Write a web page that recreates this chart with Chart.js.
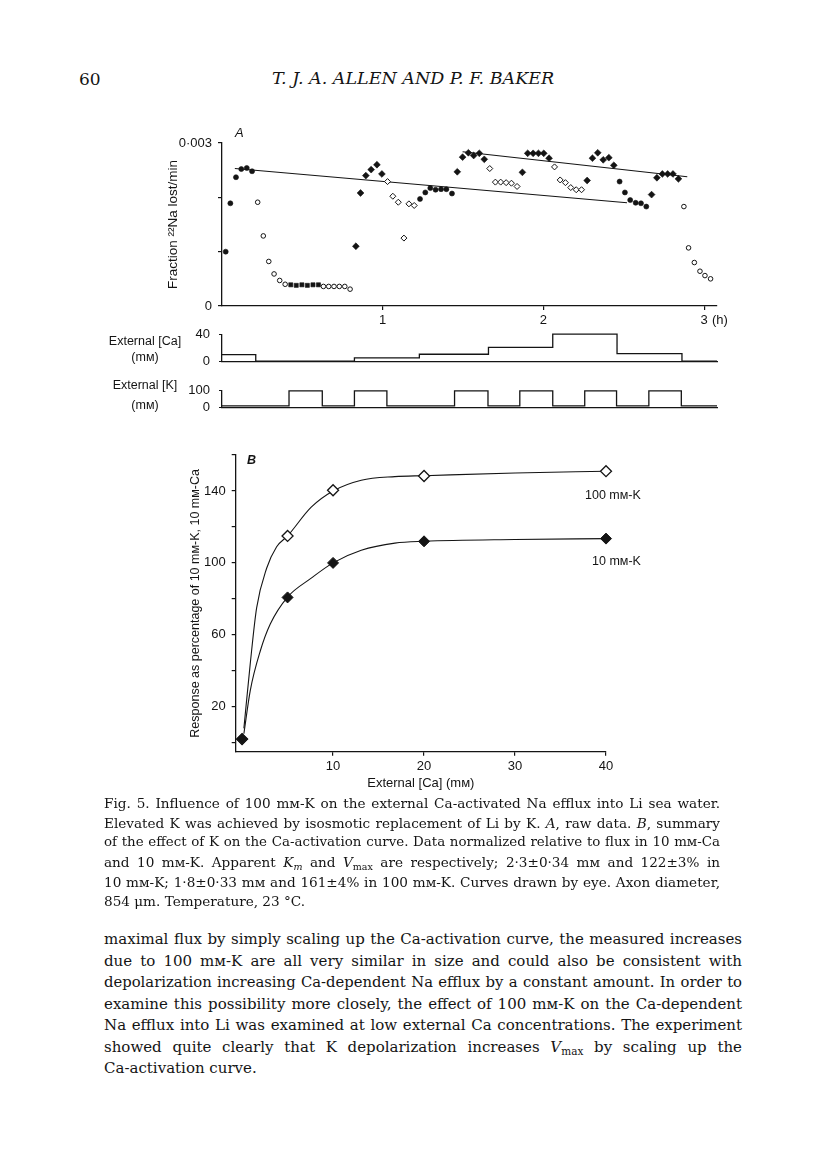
<!DOCTYPE html>
<html>
<head>
<meta charset="utf-8">
<title>Fig. 5</title>
<script src="https://cdn.jsdelivr.net/npm/chart.js@4"></script>
<style>
  body { margin: 0; background: #fff; }
  #page { position: relative; width: 816px; height: 1158px; overflow: hidden; color: #141414; }
  canvas { position: absolute; left: 0; }
  .lbl { position: absolute; white-space: nowrap; font-family: 'Liberation Sans', Arial, sans-serif; font-size: 12.5px; line-height: 15px; }
  .serif { position: absolute; white-space: nowrap; font-family: 'DejaVu Serif', serif; }
  .just { left: 104px; text-align: justify; text-align-last: justify; line-height: 20px; }
  .cap { width: 616px; font-size: 13.6px; }
  .body { width: 638px; font-size: 15px; }
  .last { text-align-last: left; }
  sub { font-size: 70%; line-height: 0; vertical-align: -0.3em; }
</style>
</head>
<body>
<div id="page">
  <div class="serif" style="left:79px;top:69px;font-size:17px;">60</div>
  <div class="serif" style="left:272px;top:68px;font-size:17.5px;font-style:italic;">T. J. A. ALLEN AND P. F. BAKER</div>

  <canvas id="rawChart" width="816" height="225" style="top:110px"></canvas>
  <canvas id="caChart" width="816" height="60" style="top:318px"></canvas>
  <canvas id="kChart" width="816" height="50" style="top:374px"></canvas>
  <canvas id="summaryChart" width="816" height="360" style="top:440px"></canvas>

  <div class="lbl" style="left:235px;top:125px;font-size:13px;font-style:italic;">A</div>
  <div class="lbl" style="left:712px;top:312px;font-size:13px;">(h)</div>
  <div class="lbl" style="left:85px;top:334px;width:120px;text-align:center;">External [Ca]</div>
  <div class="lbl" style="left:85px;top:350px;width:120px;text-align:center;">(mᴍ)</div>
  <div class="lbl" style="left:85px;top:378px;width:120px;text-align:center;">External [K]</div>
  <div class="lbl" style="left:85px;top:398px;width:120px;text-align:center;">(mᴍ)</div>
  <div class="lbl" style="left:247px;top:453px;font-weight:bold;font-style:italic;">B</div>
  <div class="lbl" style="left:585px;top:488px;">100 mᴍ-K</div>
  <div class="lbl" style="left:592px;top:554px;">10 mᴍ-K</div>

  <div class="serif just cap" style="top:793px;">Fig. 5. Influence of 100 mᴍ-K on the external Ca-activated Na efflux into Li sea water.</div>
  <div class="serif just cap" style="top:813px;">Elevated K was achieved by isosmotic replacement of Li by K. <i>A</i>, raw data. <i>B</i>, summary</div>
  <div class="serif just cap" style="top:832px;">of the effect of K on the Ca-activation curve. Data normalized relative to flux in 10 mᴍ-Ca</div>
  <div class="serif just cap" style="top:852px;">and 10 mᴍ-K. Apparent <i>K</i><sub><i>m</i></sub> and <i>V</i><sub>max</sub> are respectively; 2·3±0·34 mᴍ and 122±3% in</div>
  <div class="serif just cap" style="top:872px;">10 mᴍ-K; 1·8±0·33 mᴍ and 161±4% in 100 mᴍ-K. Curves drawn by eye. Axon diameter,</div>
  <div class="serif just cap last" style="top:891px;">854 μm. Temperature, 23 °C.</div>

  <div class="serif just body" style="top:929px;">maximal flux by simply scaling up the Ca-activation curve, the measured increases</div>
  <div class="serif just body" style="top:951px;">due to 100 mᴍ-K are all very similar in size and could also be consistent with</div>
  <div class="serif just body" style="top:972px;">depolarization increasing Ca-dependent Na efflux by a constant amount. In order to</div>
  <div class="serif just body" style="top:994px;">examine this possibility more closely, the effect of 100 mᴍ-K on the Ca-dependent</div>
  <div class="serif just body" style="top:1015px;">Na efflux into Li was examined at low external Ca concentrations. The experiment</div>
  <div class="serif just body" style="top:1037px;">showed quite clearly that K depolarization increases <i>V</i><sub>max</sub> by scaling up the</div>
  <div class="serif just body last" style="top:1058px;">Ca-activation curve.</div>
</div>

<script>
// A: raw data, time (h) and fraction 22Na lost/min
const fcTime = [0.023, 0.052, 0.087, 0.12, 0.154, 0.187, 1.232, 1.265, 1.296, 1.329, 1.363, 1.396, 1.431, 2.474, 2.507, 2.54, 2.574, 2.607, 2.64];
const fcFlux = [0.0010, 0.00189, 0.00237, 0.00252, 0.00254, 0.00248, 0.00197, 0.00209, 0.00217, 0.00214, 0.00215, 0.00215, 0.00207, 0.00229, 0.00209, 0.00195, 0.0019, 0.00189, 0.00183];
const ocTime = [0.222, 0.257, 0.291, 0.324, 0.359, 0.393, 0.631, 0.664, 0.697, 0.73, 0.764, 0.797, 2.874, 2.903, 2.939, 2.974, 3.005, 3.04];
const ocFlux = [0.00191, 0.00129, 0.00082, 0.00059, 0.00047, 0.0004, 0.00036, 0.00036, 0.00036, 0.00036, 0.00036, 0.00031, 0.00183, 0.00107, 0.0008, 0.00064, 0.00056, 0.0005];
const fsTime = [0.428, 0.462, 0.497, 0.531, 0.566, 0.6];
const fsFlux = [0.00039, 0.00038, 0.00039, 0.00038, 0.00039, 0.00039];
const fdTime = [0.833, 0.862, 0.895, 0.928, 0.964, 0.995, 1.464, 1.497, 1.533, 1.566, 1.601, 1.632, 1.869, 1.902, 1.936, 1.969, 2.002, 2.035, 2.272, 2.305, 2.338, 2.372, 2.407, 2.438, 2.673, 2.706, 2.74, 2.773, 2.806, 2.84];
const fdFlux = [0.0011, 0.00208, 0.0024, 0.00251, 0.0026, 0.00243, 0.00247, 0.00274, 0.00282, 0.00277, 0.00281, 0.0027, 0.00246, 0.00281, 0.00281, 0.00281, 0.00281, 0.00272, 0.00231, 0.00272, 0.00282, 0.00269, 0.00273, 0.00259, 0.00205, 0.00236, 0.00243, 0.00243, 0.00243, 0.00234];
const odTime = [1.03, 1.063, 1.097, 1.132, 1.163, 1.196, 1.666, 1.701, 1.734, 1.768, 1.801, 1.836, 2.069, 2.104, 2.137, 2.17, 2.204, 2.237];
const odFlux = [0.00229, 0.00202, 0.00191, 0.00125, 0.00188, 0.00185, 0.00253, 0.00228, 0.00228, 0.00227, 0.00226, 0.0022, 0.00256, 0.00232, 0.00227, 0.00218, 0.00214, 0.00214];
const lowLineT = [0.08, 2.52];
const lowLineF = [0.00253, 0.0019];
const highLineT = [1.497, 2.895];
const highLineF = [0.00284, 0.00238];
const hourTicks = [1, 2, 3];
const fluxTicks = [0, 0.001, 0.002, 0.003];
const fluxTickLabels = ['0', '', '', '0·003'];

// solution changes (each level holds from its time until the next)
const caTime = [0, 0.21, 0.824, 1.228, 1.658, 2.058, 2.458, 2.862, 3.08];
const caLevel = [10, 0, 5, 10.5, 21, 41, 11.5, 0, 0];
const kTime = [0, 0.417, 0.624, 0.824, 1.026, 1.447, 1.655, 1.853, 2.058, 2.257, 2.455, 2.656, 2.858, 3.08];
const kLevel = [8, 100, 8, 100, 8, 100, 8, 100, 8, 100, 8, 100, 8, 8];

// B: summary, response (% of 10 mM-K, 10 mM-Ca) against external Ca (mM)
const caConc = [0, 5, 10, 20, 40];
const resp100K = [2, 115, 140.4, 148.3, 151];
const resp10K = [2, 80.8, 100, 112, 113.5];
const curve100X = [0.2, 0.9, 1.6, 2.7, 3.8, 5, 7.6, 10, 13.1, 16.8, 20, 30, 40];
const curve100Y = [8, 44, 75, 97, 109, 115, 131, 140, 146, 148, 148.5, 150, 151];
const curve10X = [0.2, 0.9, 2, 3.1, 5, 7.6, 10, 13.1, 16.8, 20, 30, 40];
const curve10Y = [5, 29, 51, 66, 81, 91.5, 100, 107, 111, 112, 113, 113.5];
const respTicks = [0, 20, 40, 60, 80, 100, 120, 140, 160];
const respShown = [20, 60, 100, 140];
const concTicks = [10, 20, 30, 40];

const ink = '#141414';
const xy = (xs, ys) => xs.map((x, i) => ({x: x, y: ys[i]}));

Chart.defaults.font.family = "'Liberation Sans', Arial, sans-serif";
Chart.defaults.font.size = 13;
Chart.defaults.color = ink;
Chart.defaults.animation = false;
Chart.defaults.responsive = false;
Chart.defaults.events = [];
Chart.defaults.plugins.legend.display = false;
Chart.defaults.plugins.tooltip.enabled = false;

// padding that puts the plot area where it sits on the page
function frame(top, height, area, yWidth, xHeight) {
    return {
        left: area.l - yWidth,
        right: 816 - area.r,
        top: area.t - top,
        bottom: top + height - area.b - xHeight
    };
}

const axisGrid = {drawOnChartArea: false, tickLength: 4, color: ink, lineWidth: 1.2};
const axisBorder = {color: ink, width: 1.3};
const line = {showLine: true, pointRadius: 0, borderColor: ink, borderWidth: 1.1, clip: false};

new Chart(document.getElementById('rawChart'), {
    type: 'scatter',
    data: {
        datasets: [
            {data: xy(fdTime, fdFlux), pointStyle: 'rectRot', pointRadius: 3.4, backgroundColor: ink, borderColor: ink, borderWidth: 0.6, clip: false},
            {data: xy(odTime, odFlux), pointStyle: 'rectRot', pointRadius: 3, backgroundColor: '#fff', borderColor: ink, borderWidth: 1, clip: false},
            {data: xy(fcTime, fcFlux), pointStyle: 'circle', pointRadius: 2.5, backgroundColor: ink, borderColor: ink, borderWidth: 0.6, clip: false},
            {data: xy(ocTime, ocFlux), pointStyle: 'circle', pointRadius: 2.3, backgroundColor: '#fff', borderColor: ink, borderWidth: 1, clip: false},
            {data: xy(fsTime, fsFlux), pointStyle: 'rect', pointRadius: 2.9, backgroundColor: ink, borderColor: ink, borderWidth: 0.6, clip: false},
            {...line, data: xy(lowLineT, lowLineF)},
            {...line, data: xy(highLineT, highLineF)}
        ]
    },
    options: {
        layout: {padding: frame(110, 225, {l: 222, r: 717, t: 143, b: 306}, 57, 20)},
        scales: {
            x: {
                type: 'linear', min: 0, max: 3.08,
                afterBuildTicks: s => { s.ticks = hourTicks.map(v => ({value: v})); },
                afterFit: s => { s.height = 20; },
                ticks: {padding: 3},
                grid: axisGrid, border: axisBorder
            },
            y: {
                min: 0, max: 0.003,
                afterBuildTicks: s => { s.ticks = fluxTicks.map(v => ({value: v})); },
                afterFit: s => { s.width = 57; },
                ticks: {padding: 6, callback: (v, i) => fluxTickLabels[i]},
                title: {display: true, text: 'Fraction ²²Na lost/min', font: {size: 13.5}, padding: {top: 0, bottom: 0}},
                grid: axisGrid, border: axisBorder
            }
        }
    }
});

function traceChart(id, top, height, area, times, levels, maxLevel) {
    return new Chart(document.getElementById(id), {
        type: 'scatter',
        data: {
            datasets: [{...line, data: xy(times, levels), stepped: true, borderWidth: 1.3}]
        },
        options: {
            layout: {padding: frame(top, height, area, 40, 0)},
            scales: {
                x: {
                    type: 'linear', min: 0, max: 3.08,
                    afterFit: s => { s.height = 0; },
                    ticks: {display: false},
                    grid: {display: false}, border: axisBorder
                },
                y: {
                    min: 0, max: maxLevel,
                    afterBuildTicks: s => { s.ticks = [{value: 0}, {value: maxLevel}]; },
                    afterFit: s => { s.width = 40; },
                    ticks: {padding: 9},
                    grid: {drawOnChartArea: false, tickLength: 3, color: ink}, border: axisBorder
                }
            }
        }
    });
}

traceChart('caChart', 318, 60, {l: 222, r: 717, t: 329, b: 371.7}, caTime, caLevel, 40);
traceChart('kChart', 374, 50, {l: 222, r: 717, t: 382.3, b: 414}, kTime, kLevel, 100);

new Chart(document.getElementById('summaryChart'), {
    type: 'scatter',
    data: {
        datasets: [
            {data: xy(caConc, resp10K), pointStyle: 'rectRot', pointRadius: 5.5, backgroundColor: ink, borderColor: ink, borderWidth: 1, clip: false},
            {data: xy(caConc, resp100K), pointStyle: 'rectRot', pointRadius: 5.5, backgroundColor: '#fff', borderColor: ink, borderWidth: 1.3, clip: false},
            {...line, data: xy(curve10X, curve10Y), cubicInterpolationMode: 'monotone'},
            {...line, data: xy(curve100X, curve100Y), cubicInterpolationMode: 'monotone'}
        ]
    },
    options: {
        layout: {padding: frame(440, 360, {l: 235.7, r: 606, t: 455, b: 751.7}, 48, 40)},
        scales: {
            x: {
                type: 'linear', min: -0.7, max: 40,
                afterBuildTicks: s => { s.ticks = concTicks.map(v => ({value: v})); },
                afterFit: s => { s.height = 40; },
                ticks: {padding: 3},
                title: {display: true, text: 'External [Ca] (mᴍ)', font: {size: 13}, padding: {top: 0, bottom: 0}},
                grid: axisGrid, border: axisBorder
            },
            y: {
                min: -5, max: 160,
                afterBuildTicks: s => { s.ticks = respTicks.map(v => ({value: v})); },
                afterFit: s => { s.width = 48; },
                ticks: {padding: 6, callback: v => respShown.includes(v) ? v : ''},
                title: {display: true, text: 'Response as percentage of 10 mᴍ-K, 10 mᴍ-Ca', font: {size: 12.5}, padding: {top: 0, bottom: 0}},
                grid: axisGrid, border: axisBorder
            }
        }
    }
});

// shrink a justified text line a little if it would run past its box
document.querySelectorAll('.just').forEach(el => {
    let size = parseFloat(getComputedStyle(el).fontSize);
    while (el.scrollWidth > el.clientWidth && size > 8) {
        size -= 0.2;
        el.style.fontSize = size + 'px';
    }
});
</script>
</body>
</html>
